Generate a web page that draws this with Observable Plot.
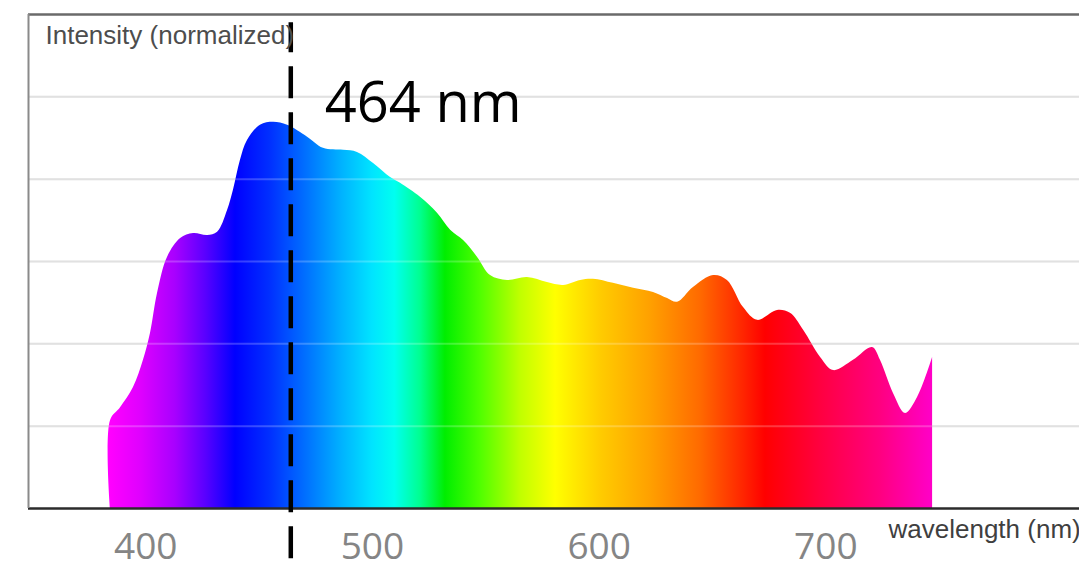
<!DOCTYPE html>
<html>
<head>
<meta charset="utf-8">
<script src="https://cdn.jsdelivr.net/npm/d3@7"></script>
<script src="https://cdn.jsdelivr.net/npm/@observablehq/plot@0.6"></script>
<style>
  html, body { margin: 0; padding: 0; background: #ffffff; }
  svg { display: block; }
</style>
</head>
<body>
<div id="chart"></div>
<script>
// ---- data ----
const wavelengths = [384.4, 384.5, 388.9, 394.6, 399.0, 402.1, 405.2, 409.6, 415.4, 421.1, 427.3, 431.7, 436.1, 438.7, 441.8, 444.9, 450.6, 456.4, 462.6, 471.4, 478.4, 487.3, 493.4, 500.5, 508.0, 512.4, 521.2, 528.7, 534.5, 540.2, 546.4, 552.1, 559.6, 568.4, 577.2, 584.3, 591.8, 597.5, 606.3, 615.2, 624.0, 630.2, 634.6, 641.6, 650.5, 656.6, 663.7, 669.9, 678.7, 684.4, 690.2, 697.7, 703.4, 712.2, 720.6, 724.1, 729.9, 735.2, 740.5, 747.1];
const intensity   = [0.000, 0.214, 0.245, 0.294, 0.360, 0.425, 0.522, 0.610, 0.656, 0.668, 0.663, 0.671, 0.724, 0.773, 0.846, 0.894, 0.931, 0.938, 0.931, 0.902, 0.875, 0.870, 0.865, 0.838, 0.804, 0.790, 0.756, 0.717, 0.676, 0.651, 0.610, 0.566, 0.554, 0.561, 0.549, 0.542, 0.554, 0.557, 0.547, 0.535, 0.525, 0.510, 0.501, 0.537, 0.566, 0.554, 0.488, 0.457, 0.481, 0.474, 0.433, 0.367, 0.335, 0.360, 0.391, 0.360, 0.279, 0.231, 0.270, 0.367];
const xTicks = [400, 500, 600, 700];
const gridValues = [0.2, 0.4, 0.6, 0.8, 1.0];
const peakWavelength = 464;
const peakLabel = "464 nm";
const yLabel = "Intensity (normalized)";
const xLabel = "wavelength (nm)";
const xDomain = [348.3, 811.9];
const yDomain = [0, 1.2];
// gradient colour stops along the wavelength axis
const gradientNm = [384.5, 397.7, 413.1, 426.4, 439.6, 455.1, 472.7, 487.0, 500.0, 510.0, 521.2, 532.2, 547.7, 565.3, 580.8, 600.6, 622.7, 644.7, 662.4, 673.4, 697.7, 724.1, 747.1];
const gradientColors = ["#ff00ff", "#e000ff", "#a800ff", "#5a00ff", "#0000ff", "#0030ff", "#0078ff", "#00b4ff", "#00e4ff", "#00fff0", "#00ff90", "#00ee00", "#50ff00", "#c0ff00", "#ffff00", "#ffcc00", "#ffa000", "#ff6a00", "#ff2a00", "#ff0000", "#ff0040", "#ff0080", "#ff00c8"];

const spectrum = wavelengths.map((nm, i) => ({nm, v: intensity[i]}));

const chart = Plot.plot({
  width: 1079,
  height: 567,
  marginLeft: 28,
  marginRight: 0,
  marginTop: 14,
  marginBottom: 59,
  x: {domain: xDomain, axis: null},
  y: {domain: yDomain, axis: null},
  style: {background: "white"},
  marks: [
    Plot.ruleY(gridValues, {stroke: "#d9d9d9", strokeWidth: 2}),
    Plot.areaY(spectrum, {x: "nm", y: "v", fill: "url(#spectrumGradient)", curve: "catmull-rom"}),
    Plot.ruleY(gridValues, {stroke: "#ffffff", strokeOpacity: 0.22, strokeWidth: 2}),
    Plot.ruleY([yDomain[0]], {stroke: "#2b2b2b", strokeWidth: 2.5}),
    Plot.ruleY([yDomain[1]], {stroke: "#6a6a6a", strokeWidth: 2.5}),
    Plot.ruleX([xDomain[0]], {y1: yDomain[0], y2: yDomain[1], stroke: "#8a8a8a", strokeWidth: 2}),
    Plot.ruleX([peakWavelength], {y1: -0.122, y2: 1.18, stroke: "#000000", strokeWidth: 4.5, strokeDasharray: "32 14"}),
    Plot.text(xTicks, {x: d => d, frameAnchor: "bottom", dy: 50, text: d => String(d), fontSize: 37, fill: "#858585", fontFamily: "'Open Sans', sans-serif"}),
    Plot.text([peakLabel], {x: () => peakWavelength, frameAnchor: "top", dy: 68, dx: 34, textAnchor: "start", text: d => d, fontSize: 56, fill: "#000000", fontFamily: "'Open Sans', sans-serif"}),
    Plot.text([yLabel], {frameAnchor: "top-left", dx: 17, dy: 11, textAnchor: "start", text: d => d, fontSize: 26, fill: "#4d4d4d", fontFamily: "'Liberation Sans', Arial, sans-serif"}),
    Plot.text([xLabel], {frameAnchor: "bottom-right", dx: -191, dy: 29, textAnchor: "start", text: d => d, fontSize: 26, fill: "#3f3f3f", fontFamily: "'Liberation Sans', Arial, sans-serif"})
  ]
});

// linear gradient along the wavelength axis, placed with the chart's own x scale
const xs = chart.scale("x");
const g0 = gradientNm[0], g1 = gradientNm[gradientNm.length - 1];
const defs = d3.select(chart).insert("defs", ":first-child");
const grad = defs.append("linearGradient")
  .attr("id", "spectrumGradient")
  .attr("gradientUnits", "userSpaceOnUse")
  .attr("x1", xs.apply(g0)).attr("x2", xs.apply(g1))
  .attr("y1", 0).attr("y2", 0);
gradientNm.forEach((nm, i) => {
  grad.append("stop").attr("offset", (nm - g0) / (g1 - g0)).attr("stop-color", gradientColors[i]);
});

document.getElementById("chart").appendChild(chart);
</script>
</body>
</html>
